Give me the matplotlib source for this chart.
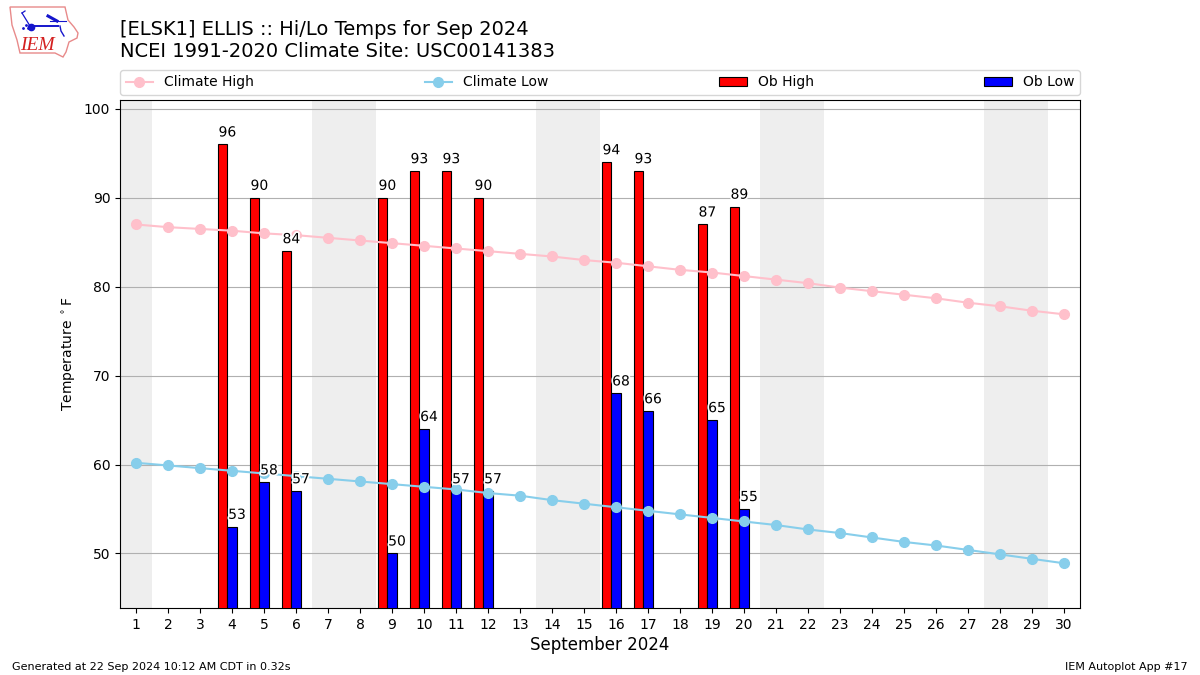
import numpy as np
import matplotlib
matplotlib.use("Agg")
import matplotlib.pyplot as plt
import matplotlib.patheffects as pe
from matplotlib.patches import Polygon

days = list(range(1, 31))
clim_high = [87.0, 86.7, 86.5, 86.3, 86.0, 85.8, 85.5, 85.2, 84.9, 84.6, 84.3, 84.0, 83.7, 83.4, 83.0,
             82.7, 82.3, 81.9, 81.6, 81.2, 80.8, 80.4, 79.9, 79.5, 79.1, 78.7, 78.2, 77.8, 77.3, 76.9]
clim_low = [60.2, 59.9, 59.6, 59.3, 59.0, 58.7, 58.4, 58.1, 57.8, 57.5, 57.2, 56.8, 56.5, 56.0, 55.6,
            55.2, 54.8, 54.4, 54.0, 53.6, 53.2, 52.7, 52.3, 51.8, 51.3, 50.9, 50.4, 49.9, 49.4, 48.9]
ob_days = [4, 5, 6, 9, 10, 11, 12, 16, 17, 19, 20]
ob_high = [96, 90, 84, 90, 93, 93, 90, 94, 93, 87, 89]
ob_low = [53, 58, 57, 50, 64, 57, 57, 68, 66, 65, 55]
weekend_spans = [(0.5, 1.5), (6.5, 8.5), (13.5, 15.5), (20.5, 22.5), (27.5, 29.5)]

fig = plt.figure(figsize=(12, 6.75), dpi=100)
ax = fig.add_axes([0.1, 1 - 608 / 675, 0.8, 508 / 675])

for a, b in weekend_spans:
    ax.axvspan(a, b, color="#eeeeee", lw=0, zorder=0)
ax.grid(axis="y", color="#b0b0b0", lw=0.8, zorder=1)
ax.set_axisbelow(True)

ax.plot(days, clim_high, color="pink", marker="o", ms=7, lw=1.5, label="Climate High", zorder=4)
ax.plot(days, clim_low, color="skyblue", marker="o", ms=7, lw=1.5, label="Climate Low", zorder=4)
od = np.array(ob_days, float)
ax.bar(od - 0.45, ob_high, width=0.3, align="edge", color="red", edgecolor="black", lw=0.8, label="Ob High", zorder=3)
ax.bar(od - 0.15, ob_low, width=0.3, align="edge", color="blue", edgecolor="black", lw=0.8, label="Ob Low", zorder=3)

halo = [pe.withStroke(linewidth=2.5, foreground="white")]
for d, hi, lo in zip(ob_days, ob_high, ob_low):
    ax.text(d - 0.42, hi + 0.9, str(hi), fontsize=10, ha="left", path_effects=halo, zorder=5)
    ax.text(d - 0.12, lo + 0.9, str(lo), fontsize=10, ha="left", path_effects=halo, zorder=5)

ax.set_xlim(0.5, 30.5)
ax.set_ylim(43.87, 101.0)
ax.set_xticks(days)
ax.set_yticks(range(50, 101, 10))
ax.set_xlabel("September 2024", fontsize=12, labelpad=3)
ax.set_ylabel(r"Temperature $^\circ$F")
ax.legend(loc="lower left", bbox_to_anchor=(0, 1.01, 1, 0.1), ncol=4, mode="expand", fontsize=10,
          borderaxespad=0)

fig.text(0.1, 1 - 61 / 675, "[ELSK1] ELLIS :: Hi/Lo Temps for Sep 2024\nNCEI 1991-2020 Climate Site: USC00141383",
         fontsize=14, ha="left", va="bottom", linespacing=1.2)
fig.text(0.01, 0.005, "Generated at 22 Sep 2024 10:12 AM CDT in 0.32s", fontsize=8, ha="left", va="bottom")
fig.text(0.99, 0.005, "IEM Autoplot App #17", fontsize=8, ha="right", va="bottom")

# IEM logo, in a small overlay axes measured in image pixels
logo = fig.add_axes([0, 1 - 60 / 675, 82 / 1200, 60 / 675])
logo.set_xlim(0, 82)
logo.set_ylim(60, 0)
logo.axis("off")
logo.add_patch(Polygon([(10, 7), (65, 7), (68, 20), (74, 27), (78, 33), (77, 38), (69, 42), (66, 52), (63, 57),
                        (55, 53), (20, 53), (17, 40), (12, 25)], closed=True, fc="white", ec="#e88a8a", lw=1))
logo.plot([31, 58], [26, 26], color="#1515cc", lw=1.4)
logo.plot([31], [27], "o", color="#1515cc", ms=4.5)
logo.plot([22, 30], [13, 26], color="#1515cc", lw=0.9)
logo.plot([22, 25], [13, 11], color="#1515cc", lw=0.9)
logo.plot([48, 57], [16, 21], color="#1515cc", lw=2.2)
logo.plot([50, 66], [21, 21], color="#1515cc", lw=0.8)
logo.plot([60, 61, 64], [26, 31, 36], color="#1515cc", lw=1)
logo.plot([23, 26, 28], [28, 25, 28], ".", color="#1515cc", ms=2)
logo.text(20.5, 45, "IEM", color="#d42020", fontsize=14, family="Liberation Serif", style="italic",
          ha="left", va="center")

fig.savefig("out.png", dpi=100)
